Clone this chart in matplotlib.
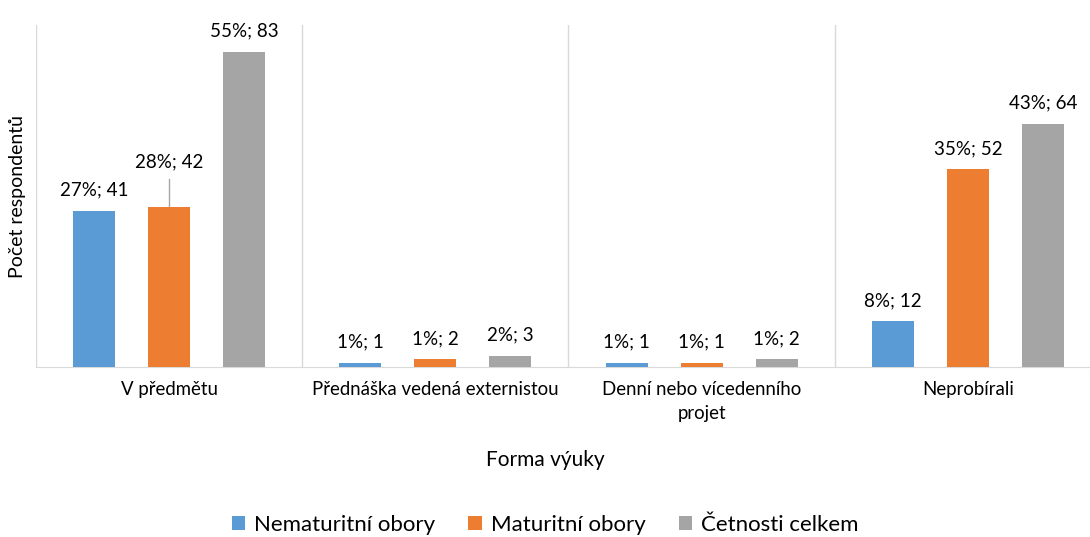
import matplotlib.pyplot as plt
import numpy as np

plt.rcParams['font.family'] = ['Lato', 'DejaVu Sans']

categories = ['V předmětu', 'Přednáška vedená externistou',
              'Denní nebo vícedenního\nprojet', 'Neprobírali']
series_names = ['Nematuritní obory', 'Maturitní obory', 'Četnosti celkem']
nematuritni = [41, 1, 1, 12]
maturitni = [42, 2, 1, 52]
celkem = [83, 3, 2, 64]
nematuritni_pct = [27, 1, 1, 8]
maturitni_pct = [28, 1, 1, 35]
celkem_pct = [55, 2, 1, 43]

colors = ['#5B9BD5', '#ED7D31', '#A5A5A5']

fig = plt.figure(figsize=(10.9, 5.37), dpi=100)
ax = fig.add_axes([0.033, 0.3166, 0.967, 0.6368])

x = np.arange(len(categories))
width = 0.158
offset = 0.282
values = [nematuritni, maturitni, celkem]
pcts = [nematuritni_pct, maturitni_pct, celkem_pct]

for i in range(3):
    xs = x + (i - 1) * offset
    ax.bar(xs, values[i], width, color=colors[i], label=series_names[i], zorder=3)
    for j in range(len(categories)):
        txt = '%d%%; %d' % (pcts[i][j], values[i][j])
        v = values[i][j]
        if i == 1 and j == 0:
            # label moved up with a leader line
            ax.plot([xs[j], xs[j]], [v, v + 7.5], color='#a6a6a6', lw=1, zorder=2)
            ax.text(xs[j], v + 12, txt, ha='center', va='center', fontsize=13.5)
        else:
            ax.text(xs[j], v + 5.5, txt, ha='center', va='center', fontsize=13.5)

ax.set_xlim(-0.5, 3.5 - 11 / 266)
ax.set_ylim(0, 90)
for b in [-0.5, 0.5, 1.5, 2.5]:
    ax.axvline(b, color='#d9d9d9', lw=1, zorder=1)

for s in ['top', 'right', 'left']:
    ax.spines[s].set_visible(False)
ax.spines['bottom'].set_color('#d9d9d9')
ax.set_yticks([])
ax.set_xticks(x)
ax.set_xticklabels(categories, fontsize=13.4, linespacing=1.5)
ax.tick_params(axis='x', length=0, pad=10)

fig.text(0.5, 1 - 460 / 537, 'Forma výuky', ha='center', va='center', fontsize=15)
fig.text(18 / 1090, 1 - 196 / 537, 'Počet respondentů', ha='center', va='center',
         rotation=90, fontsize=14)

fig.legend(loc='center', bbox_to_anchor=(0.5, 1 - 525 / 537), ncol=3, frameon=False,
           fontsize=16, handlelength=0.6, handleheight=0.6, handletextpad=0.4,
           columnspacing=1.5)

fig.savefig('out.png', dpi=100)
